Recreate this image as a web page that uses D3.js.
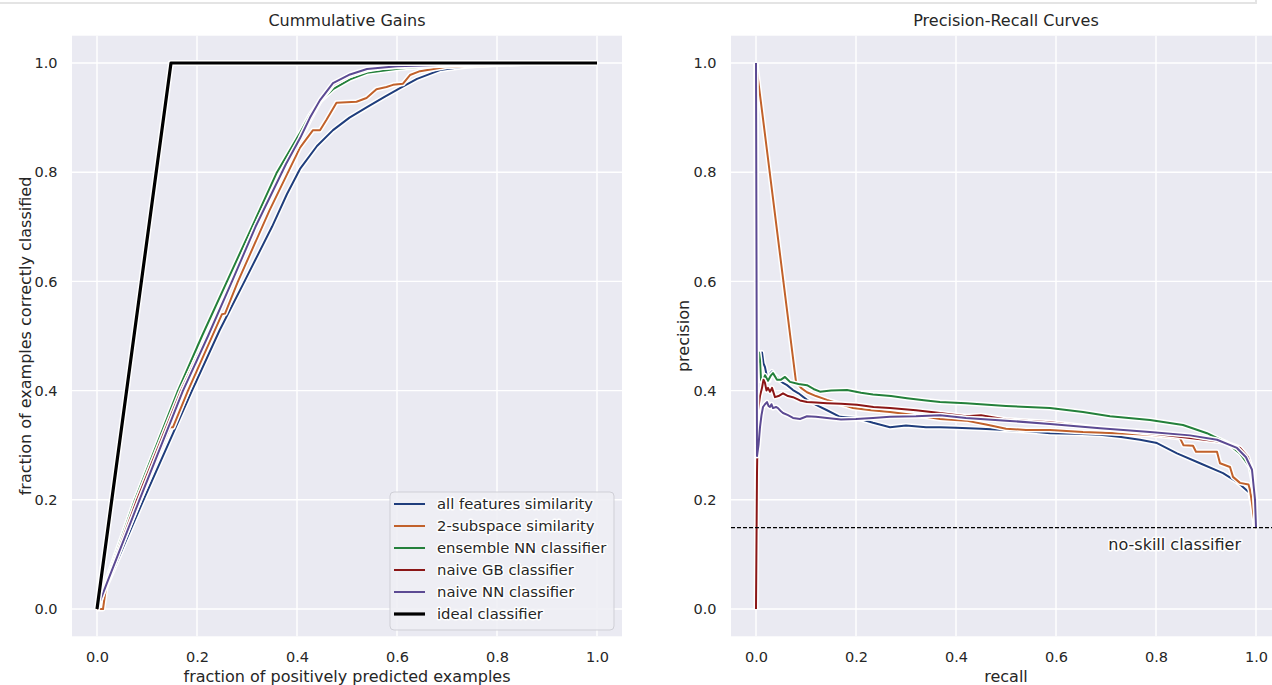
<!DOCTYPE html>
<html lang="en">
<head>
    <meta charset="utf-8">
    <title>Cummulative Gains / Precision-Recall</title>
    <script src="https://d3js.org/d3.v7.min.js"></script>
    <style>
        body {
            margin: 0;
            background: #fff;
        }

        svg text {
            font-family: "DejaVu Sans", sans-serif;
            fill: #262626;
        }

        .grid line {
            stroke: #fff;
            stroke-width: 1.4;
        }

        .tick text {
            font-size: 14.5px;
        }

        .halo-text {
            paint-order: stroke;
            stroke: #fff;
            stroke-width: 3px;
            stroke-linejoin: round;
        }
    </style>
</head>
<body>
    <svg id="chart" width="1272" height="685"></svg>

    <script type="text/javascript">
      // series names and colours, same order in both panels
      var seriesNames = ["all features similarity", "2-subspace similarity", "ensemble NN classifier", "naive GB classifier", "naive NN classifier"]
      var seriesColors = ["#1f3d7c", "#c1612b", "#24803b", "#8b1616", "#5c4a93"]
      var idealName = "ideal classifier"

      var tickValues = [0, 0.2, 0.4, 0.6, 0.8, 1.0]
      var baseRate = 0.149

      // cumulative gains: [fraction predicted, fraction correct]
      var gainsAllFeatures = [[0,0],[0.02,0.045],[0.093,0.2],[0.19,0.4],[0.245,0.51],[0.295,0.6],[0.35,0.7],[0.38,0.76],[0.406,0.806],[0.44,0.848],[0.472,0.877],[0.505,0.9],[0.54,0.919],[0.575,0.938],[0.606,0.954],[0.64,0.971],[0.686,0.987],[0.74,0.994],[0.806,0.998],[0.9,1],[1,1]]
      var gainsTwoSubspace = [[0,0],[0.012,0],[0.02,0.053],[0.086,0.2],[0.146,0.333],[0.152,0.333],[0.182,0.4],[0.25,0.54],[0.256,0.541],[0.282,0.6],[0.345,0.73],[0.406,0.845],[0.432,0.877],[0.446,0.877],[0.459,0.896],[0.479,0.927],[0.519,0.929],[0.539,0.936],[0.559,0.952],[0.579,0.956],[0.592,0.96],[0.612,0.962],[0.626,0.978],[0.646,0.985],[0.679,0.99],[0.699,0.993],[0.746,0.995],[0.85,0.999],[1,1]]
      var gainsEnsemble = [[0,0],[0.02,0.055],[0.076,0.2],[0.162,0.4],[0.21,0.5],[0.26,0.6],[0.31,0.7],[0.36,0.8],[0.406,0.872],[0.426,0.905],[0.446,0.93],[0.472,0.952],[0.506,0.97],[0.54,0.982],[0.606,0.99],[0.673,0.995],[0.8,0.999],[1,1]]
      var gainsNaiveGB = [[0,0],[0.02,0.05],[0.08,0.2],[0.168,0.4],[0.22,0.5],[0.27,0.6],[0.318,0.7],[0.38,0.815],[0.406,0.858],[0.426,0.896],[0.446,0.93],[0.472,0.96],[0.506,0.977],[0.54,0.987],[0.573,0.992],[0.626,0.994],[0.7,0.997],[0.85,1],[1,1]]
      var gainsNaiveNN = [[0,0],[0.02,0.048],[0.085,0.2],[0.172,0.4],[0.222,0.5],[0.27,0.6],[0.317,0.7],[0.378,0.815],[0.406,0.862],[0.426,0.9],[0.446,0.932],[0.472,0.963],[0.506,0.979],[0.54,0.989],[0.6,0.994],[0.7,0.997],[0.85,1],[1,1]]
      var gainsIdeal = [[0,0],[0.148,1],[1,1]]

      // precision-recall: [recall, precision]
      var prAllFeatures = [[0,1],[0.003,0.33],[0.006,0.4],[0.009,0.44],[0.012,0.47],[0.015,0.45],[0.018,0.443],[0.022,0.425],[0.026,0.418],[0.029,0.432],[0.032,0.435],[0.036,0.428],[0.042,0.425],[0.048,0.418],[0.054,0.414],[0.062,0.41],[0.074,0.401],[0.085,0.395],[0.102,0.383],[0.12,0.374],[0.142,0.364],[0.168,0.352],[0.2,0.35],[0.234,0.341],[0.268,0.333],[0.3,0.336],[0.34,0.333],[0.368,0.333],[0.4,0.332],[0.45,0.33],[0.5,0.328],[0.55,0.325],[0.588,0.322],[0.64,0.321],[0.688,0.319],[0.73,0.315],[0.768,0.31],[0.802,0.304],[0.842,0.285],[0.888,0.267],[0.934,0.249],[0.962,0.233],[0.988,0.212],[0.994,0.183],[1,0.149]]
      var prTwoSubspace = [[0,1],[0.08,0.416],[0.09,0.405],[0.102,0.397],[0.12,0.39],[0.142,0.383],[0.17,0.375],[0.194,0.368],[0.23,0.364],[0.268,0.361],[0.32,0.355],[0.368,0.348],[0.42,0.345],[0.46,0.338],[0.5,0.33],[0.54,0.328],[0.588,0.328],[0.654,0.324],[0.72,0.322],[0.788,0.319],[0.848,0.313],[0.855,0.3],[0.874,0.299],[0.88,0.288],[0.922,0.288],[0.928,0.267],[0.948,0.26],[0.954,0.242],[0.968,0.231],[0.985,0.228],[0.988,0.218],[0.992,0.194],[0.998,0.15],[1,0.149]]
      var prEnsemble = [[0,1],[0.001,0.22],[0.003,0.44],[0.006,0.47],[0.008,0.456],[0.01,0.42],[0.013,0.415],[0.018,0.428],[0.024,0.418],[0.03,0.428],[0.034,0.432],[0.042,0.42],[0.05,0.42],[0.058,0.425],[0.068,0.416],[0.085,0.412],[0.102,0.41],[0.115,0.403],[0.128,0.398],[0.15,0.4],[0.182,0.401],[0.21,0.396],[0.234,0.393],[0.27,0.39],[0.302,0.386],[0.34,0.382],[0.368,0.379],[0.42,0.377],[0.5,0.372],[0.588,0.368],[0.654,0.361],[0.708,0.353],[0.788,0.346],[0.854,0.337],[0.902,0.322],[0.942,0.304],[0.968,0.285],[0.988,0.26],[0.998,0.212],[1,0.149]]
      var prNaiveGB = [[0,0],[0.002,0.25],[0.004,0.364],[0.008,0.39],[0.012,0.405],[0.015,0.42],[0.018,0.414],[0.021,0.4],[0.024,0.405],[0.028,0.398],[0.032,0.405],[0.038,0.388],[0.045,0.39],[0.054,0.395],[0.064,0.39],[0.074,0.388],[0.088,0.382],[0.102,0.379],[0.12,0.378],[0.142,0.377],[0.17,0.376],[0.202,0.374],[0.235,0.37],[0.268,0.368],[0.32,0.364],[0.368,0.359],[0.42,0.353],[0.45,0.355],[0.5,0.347],[0.588,0.342],[0.688,0.331],[0.788,0.322],[0.868,0.313],[0.934,0.306],[0.968,0.295],[0.984,0.278],[0.992,0.255],[0.998,0.2],[1,0.149]]
      var prNaiveNN = [[0,1],[0.002,0.28],[0.005,0.3],[0.008,0.333],[0.011,0.355],[0.014,0.37],[0.018,0.375],[0.022,0.379],[0.025,0.372],[0.028,0.37],[0.031,0.375],[0.034,0.368],[0.04,0.37],[0.044,0.368],[0.05,0.362],[0.054,0.359],[0.064,0.355],[0.074,0.35],[0.088,0.348],[0.102,0.353],[0.12,0.352],[0.142,0.35],[0.17,0.347],[0.2,0.348],[0.234,0.35],[0.268,0.352],[0.32,0.353],[0.368,0.355],[0.42,0.35],[0.5,0.345],[0.588,0.339],[0.688,0.331],[0.788,0.324],[0.868,0.318],[0.922,0.31],[0.962,0.295],[0.98,0.278],[0.992,0.255],[0.998,0.2],[1,0.149]]

      var gainsSeries = [gainsAllFeatures, gainsTwoSubspace, gainsEnsemble, gainsNaiveGB, gainsNaiveNN]
      var prSeries = [prAllFeatures, prTwoSubspace, prEnsemble, prNaiveGB, prNaiveNN]

      var svg = d3.select("#chart")

      // frame edge of the notebook cell above
      svg.append("rect")
        .attr("x", -4).attr("y", -10)
        .attr("width", 1260).attr("height", 13)
        .attr("fill", "none")
        .attr("stroke", "#e4e4e4")
        .attr("stroke-width", 2)

      var plotTop = 35.7, plotBottom = 636.3
      var y = d3.scaleLinear().domain([-0.05, 1.05]).range([plotBottom, plotTop])

      function makePanel(left, title, xLabel, yLabel, yLabelX){
        var x = d3.scaleLinear().domain([-0.05, 1.05]).range([left, left + 550])
        var g = svg.append("g")

        g.append("rect")
          .attr("x", left).attr("y", plotTop)
          .attr("width", 550).attr("height", plotBottom - plotTop)
          .attr("fill", "#eaeaf2")

        var grid = g.append("g").attr("class", "grid")
        grid.selectAll(".vx").data(tickValues).join("line")
          .attr("x1", d => x(d)).attr("x2", d => x(d))
          .attr("y1", plotTop).attr("y2", plotBottom)
        grid.selectAll(".hy").data(tickValues).join("line")
          .attr("x1", left).attr("x2", left + 550)
          .attr("y1", d => y(d)).attr("y2", d => y(d))

        var xAxis = g.append("g")
          .attr("transform", "translate(0," + plotBottom + ")")
          .call(d3.axisBottom(x).tickValues(tickValues).tickFormat(d3.format(".1f")).tickSize(0).tickPadding(15.5))
        var yAxis = g.append("g")
          .attr("transform", "translate(" + left + ",0)")
          .call(d3.axisLeft(y).tickValues(tickValues).tickFormat(d3.format(".1f")).tickSize(0).tickPadding(14.5))
        xAxis.select(".domain").remove()
        yAxis.select(".domain").remove()
        g.selectAll(".tick text").attr("fill", "#262626").style("font-family", "DejaVu Sans")

        g.append("text")
          .attr("x", left + 275).attr("y", 26)
          .attr("text-anchor", "middle")
          .style("font-size", "16px")
          .text(title)

        g.append("text")
          .attr("x", left + 275).attr("y", 682)
          .attr("text-anchor", "middle")
          .style("font-size", "16px")
          .text(xLabel)

        g.append("text")
          .attr("transform", "translate(" + yLabelX + "," + y(0.5) + ") rotate(-90)")
          .attr("text-anchor", "middle")
          .style("font-size", "16px")
          .text(yLabel)

        return {g: g, x: x}
      }

      function drawLine(panel, data, color, width){
        var line = d3.line().x(d => panel.x(d[0])).y(d => y(d[1]))
        panel.g.append("path")
          .attr("d", line(data))
          .attr("fill", "none")
          .attr("stroke", "#fff")
          .attr("stroke-width", width + 3)
          .attr("stroke-linejoin", "round")
        panel.g.append("path")
          .attr("d", line(data))
          .attr("fill", "none")
          .attr("stroke", color)
          .attr("stroke-width", width)
          .attr("stroke-linejoin", "round")
      }

      // left: cumulative gains
      var gainsPanel = makePanel(72, "Cummulative Gains", "fraction of positively predicted examples", "fraction of examples correctly classified", 31)
      gainsSeries.forEach(function(s, i){
        drawLine(gainsPanel, s, seriesColors[i], 2)
      })
      drawLine(gainsPanel, gainsIdeal, "#000", 3.2)

      // legend
      var legend = gainsPanel.g.append("g")
      legend.append("rect")
        .attr("x", 390).attr("y", 492)
        .attr("width", 224).attr("height", 138)
        .attr("rx", 4)
        .attr("fill", "#eeeef4")
        .attr("fill-opacity", 0.9)
        .attr("stroke", "#cfcfd6")
        .attr("stroke-width", 1)

      var legendItems = seriesNames.map((n, i) => ({name: n, color: seriesColors[i], width: 2}))
      legendItems.push({name: idealName, color: "#000", width: 3.2})

      legend.selectAll(".item").data(legendItems).join("g")
        .attr("transform", (d, i) => "translate(0," + (504 + i * 22) + ")")
        .each(function(d){
          var item = d3.select(this)
          item.append("line")
            .attr("x1", 394).attr("x2", 425)
            .attr("stroke", d.color)
            .attr("stroke-width", d.width)
          item.append("text")
            .attr("class", "halo-text")
            .attr("x", 437).attr("dy", "0.35em")
            .style("font-size", "14.8px")
            .text(d.name)
        })

      // right: precision-recall
      var prPanel = makePanel(731, "Precision-Recall Curves", "recall", "precision", 689)
      prSeries.forEach(function(s, i){
        drawLine(prPanel, s, seriesColors[i], 2)
      })

      prPanel.g.append("line")
        .attr("x1", 731).attr("x2", 1281)
        .attr("y1", y(baseRate)).attr("y2", y(baseRate))
        .attr("stroke", "#000")
        .attr("stroke-width", 1.1)
        .attr("stroke-dasharray", "4,2")

      prPanel.g.append("text")
        .attr("class", "halo-text")
        .attr("x", prPanel.x(0.97)).attr("y", y(baseRate) + 22)
        .attr("text-anchor", "end")
        .style("font-size", "16px")
        .text("no-skill classifier")
    </script>
</body>
</html>
